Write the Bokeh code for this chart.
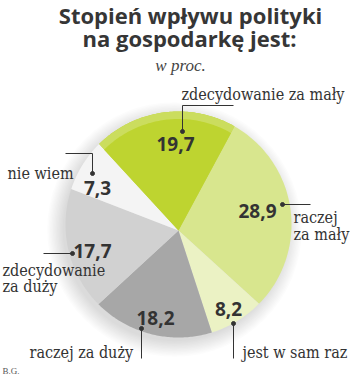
import numpy as np
from bokeh.plotting import figure
from bokeh.models import Range1d
from bokeh.core.properties import value
from bokeh.embed import file_html
from bokeh.resources import INLINE

# ---- data ----
categories = ["zdecydowanie za mały", "raczej za mały", "jest w sam raz",
              "raczej za duży", "zdecydowanie za duży", "nie wiem"]
values = [19.7, 28.9, 8.2, 18.2, 17.7, 7.3]
value_texts = ["19,7", "28,9", "8,2", "18,2", "17,7", "7,3"]
title_lines = ["Stopień wpływu polityki", "na gospodarkę jest:"]
subtitle = "w proc."
credit = "B.G."

# ---- style ----
colors = ["#bed430", "#d8e68e", "#ebf2c4", "#a7a7a7", "#d1d1d1", "#f4f4f4"]
rim_color = "#cbdd5e"
TXT = "#333333"
LABEL_FONT = "DejaVu Serif Condensed"
NUM_FONT = "Open Sans"

# geometry (pixel space, y downward)
AX, AY = 178.0, 230.0      # slice apex
CX, CY = 178.0, 224.0      # rim circle centre
R = 113.0
START = -42.6              # clockwise degrees from top

def ray_point(phi, r):
    d = np.array([np.sin(np.radians(phi)), -np.cos(np.radians(phi))])
    f = np.array([AX - CX, AY - CY])
    b = f @ d
    t = -b + np.sqrt(b * b - (f @ f - r * r))
    return AX + t * d[0], AY + t * d[1]

def slice_poly(a0, a1, r):
    phis = np.linspace(a0, a1, 80)
    pts = [ray_point(ph, r) for ph in phis]
    xs = [AX] + [q[0] for q in pts]
    ys = [AY] + [q[1] for q in pts]
    return xs, ys

spans = np.array(values) / sum(values) * 360.0
ends = START + np.cumsum(spans)
starts = ends - spans

p = figure(width=350, height=375, x_range=Range1d(0, 350), y_range=Range1d(375, 0),
           output_backend="svg", toolbar_location=None, min_border=0,
           x_axis_location=None, y_axis_location=None)
p.grid.visible = False
p.outline_line_color = None
p.background_fill_color = "white"
p.border_fill_color = "white"

# soft shadow
for k in range(12):
    p.circle(x=[174], y=[229], radius=112 + k * 1.4, fill_color="black",
             fill_alpha=0.012, line_color=None)

# slices
xs_all, ys_all = [], []
for a0, a1 in zip(starts, ends):
    xs, ys = slice_poly(a0, a1, R)
    xs_all.append(xs); ys_all.append(ys)
p.patches(xs=xs_all, ys=ys_all, fill_color=colors, line_color=None)

# raised rim on the first slice
xs, ys = slice_poly(starts[0], ends[0], R - 7.5)
p.patches(xs=[xs_all[0]], ys=[ys_all[0]], fill_color=rim_color, line_color=None)
p.patch(xs, ys, fill_color=colors[0], line_color=None)

# title
p.text(x=[190, 189], y=[14, 37], text=title_lines, text_font=value(NUM_FONT),
       text_font_style="bold", text_font_size="22px", text_color="#363636",
       text_align="center", text_baseline="middle")
p.text(x=[180], y=[65], text=[subtitle], text_font=value("Liberation Serif"),
       text_font_style="italic", text_font_size="17px", text_color="#444444",
       text_align="center", text_baseline="middle")

# value labels
vx = [175, 257, 228, 155, 92, 97]
vy = [143, 210, 308, 317, 250, 187]
p.text(x=vx, y=vy, text=value_texts, text_font=value(NUM_FONT), text_font_style="bold",
       text_font_size="19px", text_color=TXT, text_align="center", text_baseline="middle")

# category labels
lab_text = ["zdecydowanie za mały", "raczej", "za mały", "jest w sam raz",
            "raczej za duży", "zdecydowanie", "za duży", "nie wiem"]
lab_x = [181, 293, 293, 242, 29, 2, 2, 7]
lab_y = [94, 217, 234, 352, 352, 270, 286, 173]
p.text(x=lab_x, y=lab_y, text=lab_text, text_font=value(LABEL_FONT),
       text_font_size="16px", text_color=TXT, text_align="left", text_baseline="middle")

# leader lines
lines_x = [[233, 182, 182], [282, 310], [233, 233], [141, 141], [43, 72], [65, 92, 92]]
lines_y = [[105, 105, 131], [204, 204], [323, 358], [328, 358], [253, 253], [153, 153, 173]]
p.multi_line(xs=lines_x, ys=lines_y, line_color=TXT, line_width=1)
p.scatter(x=[182, 282, 233, 141, 72, 92], y=[131, 204, 323, 328, 253, 173],
          size=4, color=TXT)

p.text(x=[2], y=[370], text=[credit], text_font=value("Liberation Serif"),
       text_font_size="9px", text_color="#555555", text_align="left", text_baseline="middle")

open("out.html", "w").write(file_html(p, INLINE))
